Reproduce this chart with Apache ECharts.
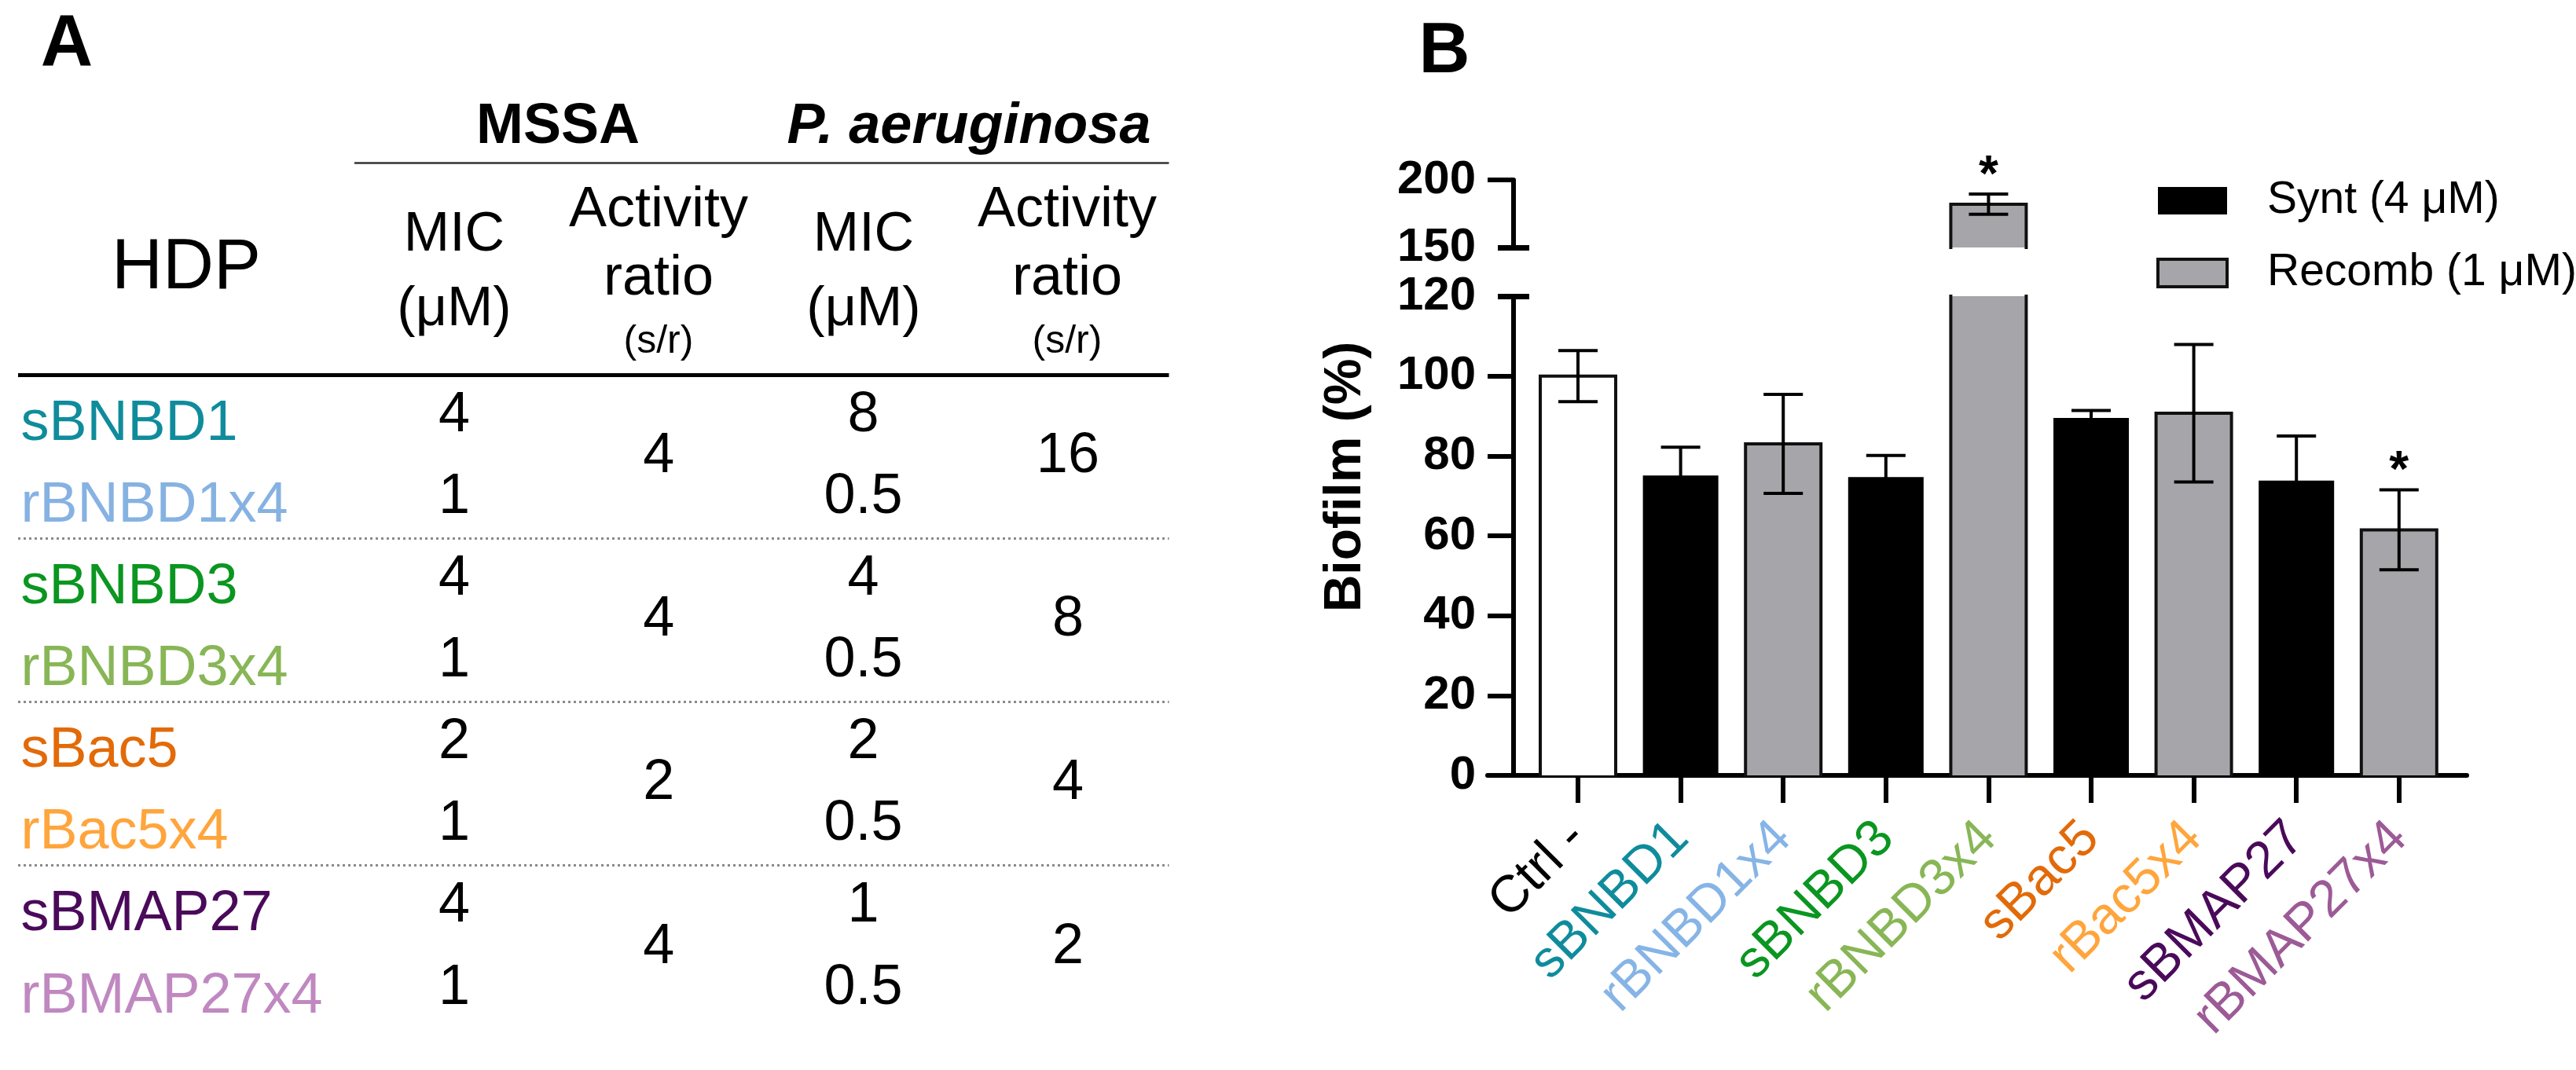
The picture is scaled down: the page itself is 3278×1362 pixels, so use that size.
<!DOCTYPE html>
<html>
<head>
<meta charset="utf-8">
<script src="https://cdn.jsdelivr.net/npm/echarts@6/dist/echarts.min.js"></script>
<style>
html, body { margin: 0; padding: 0; background: #fff; }
#main { width: 3278px; height: 1362px; }
</style>
</head>
<body>
<div id="main"></div>
<script>
// ---------- panel B : biofilm bars ----------
var cats = ['Ctrl -', 'sBNBD1', 'rBNBD1x4', 'sBNBD3', 'rBNBD3x4', 'sBac5', 'rBac5x4', 'sBMAP27', 'rBMAP27x4'];
var kinds = ['ctrl', 'synt', 'recomb', 'synt', 'recomb', 'synt', 'recomb', 'synt', 'recomb'];
var means = [100, 75.1, 83, 74.7, 182, 89.5, 90.7, 73.8, 61.5];
var errs = [6.4, 7.1, 12.4, 5.4, 7.5, 1.9, 17.2, 11.2, 10];
var sigIdx = [4, 8];
var lowTicks = [0, 20, 40, 60, 80, 100, 120];
var highTicks = [150, 200];
var legendNames = ['Synt (4 μM)', 'Recomb (1 μM)'];

// ---------- panel A : MIC table ----------
var hdp = ['sBNBD1', 'rBNBD1x4', 'sBNBD3', 'rBNBD3x4', 'sBac5', 'rBac5x4', 'sBMAP27', 'rBMAP27x4'];
var mssaMic = [4, 1, 4, 1, 2, 1, 4, 1];
var mssaRatio = [4, 4, 2, 4];
var paMic = [8, 0.5, 4, 0.5, 2, 0.5, 1, 0.5];
var paRatio = [16, 8, 4, 2];

// colours
var hdpColors = ['#0f8c9c', '#86b2e2', '#0a9620', '#88b656', '#e26a08', '#ffa53c', '#4a0a5a', '#c088c0'];
var tickColors = ['#000000', '#0f8c9c', '#86b4e6', '#0a9620', '#88b656', '#e26a08', '#ffa53c', '#4a0a5a', '#9c5a96'];
var GRAY = '#a6a6aa';
var FONT = '"Liberation Sans", Arial, sans-serif';
var BAR_W = 96;
var HIDDEN = { color: 'rgba(0,0,0,0)', opacity: 1 };

var chart = echarts.init(document.getElementById('main'));

function barSeries(name, kind, color, xi, yi) {
	var d = [];
	for (var i = 0; i < cats.length; i++) {
		if (kinds[i] === kind) d.push([i, means[i]]);
	}
	return {
		name: name, type: 'bar', xAxisIndex: xi, yAxisIndex: yi,
		barWidth: BAR_W, barGap: '-100%', clip: true, silent: true,
		itemStyle: { color: color }, data: d
	};
}

// outline of the bars + error bars, clipped by hand to [lo, hi]
function frameSeries(xi, yi, lo, hi) {
	return {
		type: 'custom', xAxisIndex: xi, yAxisIndex: yi, silent: true, z: 4,
		data: cats.map(function (c, i) { return [i, means[i], errs[i], kinds[i] === 'synt' ? 1 : 0]; }),
		renderItem: function (params, api) {
			var x = api.value(0), m = api.value(1), e = api.value(2), k = api.value(3);
			var kids = [];
			var cx = api.coord([x, lo])[0];
			var hw = BAR_W / 2;
			var st = { stroke: '#111', lineWidth: 4, fill: null, lineCap: 'square', lineJoin: 'miter' };
			if (k === 0 && m > lo) {
				var yb = api.coord([x, lo])[1];
				var yt = api.coord([x, Math.min(m, hi)])[1];
				if (m <= hi) {
					kids.push({ type: 'polyline', shape: { points: [[cx - hw, yb], [cx - hw, yt], [cx + hw, yt], [cx + hw, yb]] }, style: st });
				} else {
					kids.push({ type: 'line', shape: { x1: cx - hw, y1: yb, x2: cx - hw, y2: yt }, style: st });
					kids.push({ type: 'line', shape: { x1: cx + hw, y1: yb, x2: cx + hw, y2: yt }, style: st });
				}
			}
			var a = Math.max(m - e, lo), b = Math.min(m + e, hi);
			var es = { stroke: '#000', lineWidth: 4 };
			if (a < b) {
				kids.push({ type: 'line', shape: { x1: cx, y1: api.coord([x, a])[1], x2: cx, y2: api.coord([x, b])[1] }, style: es });
				if (m - e >= lo) {
					var y1 = api.coord([x, m - e])[1];
					kids.push({ type: 'line', shape: { x1: cx - 25, y1: y1, x2: cx + 25, y2: y1 }, style: es });
				}
				if (m + e <= hi) {
					var y2 = api.coord([x, m + e])[1];
					kids.push({ type: 'line', shape: { x1: cx - 25, y1: y2, x2: cx + 25, y2: y2 }, style: es });
				}
			}
			return { type: 'group', children: kids };
		}
	};
}

function sigSeries(xi, yi, lo, hi) {
	var d = [];
	sigIdx.forEach(function (i) {
		var v = means[i] + errs[i];
		if (v >= lo && v <= hi) d.push([i, v]);
	});
	return {
		type: 'scatter', xAxisIndex: xi, yAxisIndex: yi, silent: true, clip: false,
		symbolSize: 1, itemStyle: HIDDEN, data: d,
		label: { show: true, position: 'inside', formatter: '*', offset: [0, -22],
			fontSize: 64, fontWeight: 'bold', fontFamily: FONT, color: '#000', opacity: 1 }
	};
}

// short cap across the axis at a break
function capAxis(grid, min, max, val, inside) {
	return {
		type: 'value', gridIndex: grid, position: 'left', min: min, max: max, offset: -33,
		axisLine: { show: false, onZero: false },
		axisTick: { show: true, inside: inside, length: 20, customValues: [val], lineStyle: { width: 7, color: '#000' } },
		axisLabel: { show: false }, splitLine: { show: false }
	};
}

var rich = {};
tickColors.forEach(function (c, i) {
	rich['c' + i] = { color: c, fontSize: 66, fontFamily: FONT };
});

// table series helpers
function cellSeries(vals, col, rowStep, rowOff) {
	return {
		type: 'scatter', xAxisIndex: 2, yAxisIndex: 6, silent: true, clip: false,
		symbolSize: 1, itemStyle: HIDDEN,
		data: vals.map(function (v, i) { return { name: String(v), value: [col, i * rowStep + rowOff] }; }),
		label: { show: true, position: 'inside', formatter: '{b}', fontSize: 72, fontFamily: FONT, color: '#000', opacity: 1 }
	};
}

var T_MIN = -1.132, T_MAX = 4.494;
var lines = [
	[{ coord: [T_MIN, -0.5], lineStyle: { width: 5, color: '#000', type: 'solid' } }, { coord: [T_MAX, -0.5] }],
	[{ coord: [0.512, -3.086], lineStyle: { width: 2.5, color: '#333', type: 'solid' } }, { coord: [T_MAX, -3.086] }]
];
for (var g = 1; g < 4; g++) {
	lines.push([{ coord: [T_MIN, 2 * g - 0.5], lineStyle: { width: 3, color: '#8a8a8a', type: [3, 4] } }, { coord: [T_MAX, 2 * g - 0.5] }]);
}

function txt(s, x, y, size, weight, style, align) {
	return {
		type: 'text', x: x, y: y, silent: true,
		style: {
			text: s, fill: '#000',
			font: (style || 'normal') + ' ' + (weight || 'normal') + ' ' + size + 'px ' + FONT,
			align: align || 'center', verticalAlign: 'middle', textAlign: align || 'center', textVerticalAlign: 'middle'
		}
	};
}

var graphics = [
	txt('A', 85, 58, 92, 'bold'),
	txt('B', 1838, 67, 90, 'bold'),
	txt('MSSA', 710, 162, 72, 'bold'),
	txt('P. aeruginosa', 1233, 162, 72, 'bold', 'italic'),
	txt('HDP', 237, 342, 90),
	txt('MIC', 578, 300, 70), txt('(μM)', 578, 395, 70),
	txt('MIC', 1099, 300, 70), txt('(μM)', 1099, 395, 70),
	txt('Activity', 838, 268, 72), txt('ratio', 838, 355, 72), txt('(s/r)', 838, 435, 50),
	txt('Activity', 1358, 268, 72), txt('ratio', 1358, 355, 72), txt('(s/r)', 1358, 435, 50)
];
var yTitle = txt('Biofilm (%)', 1713, 607, 66, 'bold');
yTitle.rotation = Math.PI / 2;
graphics.push(yTitle);

var option = {
	animation: false,
	backgroundColor: '#fff',
	textStyle: { fontFamily: FONT },
	grid: [
		{ left: 1893, top: 377, width: 1246, height: 610 },
		{ left: 1893, top: 229, width: 1246, height: 86 },
		{ left: 23, top: 8.5, width: 1464.5, height: 1353.3 }
	],
	legend: {
		orient: 'vertical', left: 2739, top: 222, itemWidth: 88, itemHeight: 35, itemGap: 35,
		icon: 'rect', selectedMode: false,
		textStyle: { fontSize: 57, fontFamily: FONT, color: '#000', padding: [0, 0, 0, 46] },
		data: [
			{ name: legendNames[0] },
			{ name: legendNames[1], itemStyle: { color: GRAY, borderColor: '#111', borderWidth: 4 } }
		]
	},
	xAxis: [
		{
			type: 'value', gridIndex: 0, min: -0.8806, max: 8.66,
			axisLine: { show: true, onZero: false, lineStyle: { width: 6, color: '#000' } },
			axisTick: { show: true, length: 35, customValues: cats.map(function (c, i) { return i; }), lineStyle: { width: 6, color: '#000' } },
			axisLabel: {
				customValues: cats.map(function (c, i) { return i; }), rotate: 45, margin: 70,
				formatter: function (v) { return '{c' + v + '|' + cats[v] + '}'; }, rich: rich
			},
			splitLine: { show: false }
		},
		{ type: 'value', gridIndex: 1, min: -0.8806, max: 8.66, show: false },
		{ type: 'value', gridIndex: 2, min: T_MIN, max: T_MAX, show: false }
	],
	yAxis: [
		{
			type: 'value', gridIndex: 0, position: 'left', min: 0, max: 120, interval: 20, offset: -33,
			axisLine: { show: true, onZero: false, lineStyle: { width: 6, color: '#000' } },
			axisTick: { show: true, length: 33, customValues: lowTicks.slice(0, -1), lineStyle: { width: 6, color: '#000' } },
			axisLabel: { customValues: lowTicks, margin: 48, fontSize: 60, fontWeight: 'bold', color: '#000', fontFamily: FONT },
			splitLine: { show: false }
		},
		capAxis(0, 0, 120, 120, false),
		capAxis(0, 0, 120, 120, true),
		{
			type: 'value', gridIndex: 1, position: 'left', min: 150, max: 200, interval: 50, offset: -33,
			axisLine: { show: true, onZero: false, lineStyle: { width: 6, color: '#000' } },
			axisTick: { show: true, length: 33, customValues: highTicks.slice(1), lineStyle: { width: 6, color: '#000' } },
			axisLabel: { customValues: highTicks, margin: 48, fontSize: 60, fontWeight: 'bold', color: '#000', fontFamily: FONT },
			splitLine: { show: false }
		},
		capAxis(1, 150, 200, 150, false),
		capAxis(1, 150, 200, 150, true),
		{ type: 'value', gridIndex: 2, position: 'left', min: -5, max: 8, inverse: true, show: false }
	],
	series: [
		barSeries('Ctrl', 'ctrl', '#ffffff', 0, 0),
		barSeries(legendNames[0], 'synt', '#000000', 0, 0),
		barSeries(legendNames[1], 'recomb', GRAY, 0, 0),
		frameSeries(0, 0, 0, 120),
		sigSeries(0, 0, 0, 120),
		barSeries(legendNames[1], 'recomb', GRAY, 1, 3),
		frameSeries(1, 3, 150, 200),
		sigSeries(1, 3, 150, 200),
		{
			type: 'scatter', xAxisIndex: 2, yAxisIndex: 6, silent: true, clip: false,
			symbolSize: 1, itemStyle: HIDDEN,
			data: hdp.map(function (n, i) {
				return { name: n, value: [-1.1205, i], label: { color: hdpColors[i] } };
			}),
			label: { show: true, position: 'right', distance: 0, offset: [0, 11], formatter: '{b}', fontSize: 72, fontFamily: FONT, opacity: 1 },
			markLine: { symbol: 'none', silent: true, label: { show: false }, data: lines }
		},
		cellSeries(mssaMic, 1, 1, 0),
		cellSeries(mssaRatio, 2, 2, 0.5),
		cellSeries(paMic, 3, 1, 0),
		cellSeries(paRatio, 4, 2, 0.5)
	],
	graphic: graphics
};

chart.setOption(option);
</script>
</body>
</html>
